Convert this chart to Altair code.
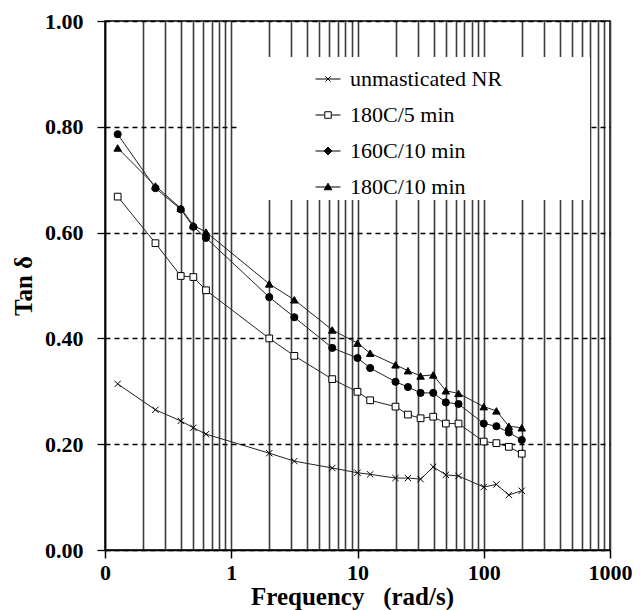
import altair as alt
import pandas as pd

# ---- data ----
freq = [0.126, 0.251, 0.398, 0.501, 0.631, 2.0, 3.16, 6.31, 10.0, 12.6,
        20.0, 25.1, 31.6, 39.8, 50.1, 63.1, 100.0, 126.0, 158.0, 200.0]
unmasticated_nr = [0.314, 0.265, 0.244, 0.231, 0.219, 0.183, 0.168, 0.155, 0.146, 0.143,
                   0.136, 0.136, 0.134, 0.157, 0.142, 0.140, 0.119, 0.124, 0.104, 0.112]
c180_5min = [0.668, 0.580, 0.518, 0.516, 0.491, 0.400, 0.367, 0.323, 0.299, 0.283,
             0.271, 0.256, 0.249, 0.252, 0.239, 0.239, 0.205, 0.202, 0.195, 0.182]
c160_10min = [0.786, 0.684, 0.644, 0.611, 0.590, 0.478, 0.440, 0.382, 0.363, 0.344,
              0.318, 0.308, 0.297, 0.297, 0.279, 0.276, 0.239, 0.234, 0.222, 0.208]
c180_10min = [0.760, 0.688, 0.646, 0.614, 0.601, 0.503, 0.473, 0.416, 0.391, 0.372,
              0.350, 0.339, 0.329, 0.331, 0.301, 0.296, 0.271, 0.263, 0.234, 0.231]
series_names = ["unmasticated NR", "180C/5 min", "160C/10 min", "180C/10 min"]
series_values = [unmasticated_nr, c180_5min, c160_10min, c180_10min]

y_ticks = [0.0, 0.2, 0.4, 0.6, 0.8, 1.0]
x_grid = [round(m * 10 ** e, 6) for e in range(-1, 3) for m in range(1, 10)] + [1000]

rows = []
for name, vals in zip(series_names, series_values):
    for f, v in zip(freq, vals):
        rows.append({"freq": f, "tan": v, "series": name})
df = pd.DataFrame(rows)

FONT = "Liberation Serif"
decade = "abs(log(datum.value)/LN10 - round(log(datum.value)/LN10)) < 0.001"

x_enc = alt.X(
    "freq:Q",
    scale=alt.Scale(type="log", domain=[0.1, 1000], nice=False),
    title="Frequency\u00a0\u00a0 (rad/s)",
    axis=alt.Axis(
        values=x_grid, grid=True, gridColor="#3c3c3c", gridWidth=1.6,
        tickColor="black", tickSize=8, tickWidth=1.5,
        tickOpacity={"condition": {"test": decade, "value": 1}, "value": 0},
        labelExpr=f"({decade}) ? (datum.value < 1 ? '0' : format(datum.value, 'd')) : ''",
        labelFont=FONT, labelFontWeight="bold", labelFontSize=22, labelColor="black",
        labelPadding=4, labelOverlap=False, labelFlush=False, labelBound=False,
        domainColor="black", domainWidth=1.5,
        titleFont=FONT, titleFontWeight="bold", titleFontSize=25, titleColor="black",
        titlePadding=1, titleX=247,
    ),
)
y_enc = alt.Y(
    "tan:Q",
    scale=alt.Scale(domain=[0, 1.0], nice=False),
    title="Tan \u03b4",
    axis=alt.Axis(
        values=y_ticks, format=".2f", grid=True, gridColor="black", gridWidth=1.3,
        gridDash=[5, 4], tickColor="black", tickSize=8, tickWidth=1.3,
        labelFont=FONT, labelFontWeight="bold", labelFontSize=22, labelColor="black",
        labelPadding=14, domainColor="black", domainWidth=1.5,
        titleFont=FONT, titleFontWeight="bold", titleFontSize=25, titleColor="black",
        titlePadding=8,
    ),
)

base = alt.Chart(df)

# white box behind the legend (hides grid lines, as in the reference)
mask = alt.Chart(pd.DataFrame({"k": [0]})).mark_rect(color="white").encode(
    x=alt.value(133), x2=alt.value(485), y=alt.value(36), y2=alt.value(179)
)

lines = base.mark_line(color="#222", strokeWidth=1).encode(
    x=x_enc, y=y_enc, detail="series:N", order="freq:Q"
)

points = base.mark_point(filled=True, stroke="black", strokeWidth=1, opacity=1).encode(
    x=x_enc, y=y_enc,
    shape=alt.Shape("series:N", scale=alt.Scale(
        domain=series_names,
        range=["M-1,-1L1,1M-1,1L1,-1", "square", "circle", "triangle-up"]), legend=None),
    fill=alt.Fill("series:N", scale=alt.Scale(
        domain=series_names, range=["transparent", "white", "black", "black"]), legend=None),
    size=alt.Size("series:N", scale=alt.Scale(
        domain=series_names, range=[40, 56, 72, 100]), legend=None),
)

leg = alt.Legend(
    title=None, orient="none", legendX=210, legendY=45, padding=0,
    symbolSize=625, symbolStrokeColor="black", symbolStrokeWidth=1, symbolOpacity=1,
    labelFont=FONT, labelFontSize=22, labelColor="black", labelOffset=9,
    rowPadding=12, labelLimit=300,
)
legend_layer = base.mark_point(filled=False, opacity=0).encode(
    x=x_enc, y=y_enc,
    shape=alt.Shape("series:N", scale=alt.Scale(
        domain=series_names,
        range=[
            "M-1,0H1M-0.2,-0.2L0.2,0.2M-0.2,0.2L0.2,-0.2",
            "M-1,0H-0.26M0.26,0H1M-0.26,-0.26H0.26V0.26H-0.26Z",
            "M-1,0H1M0,-0.32L0.32,0L0,0.32L-0.32,0Z",
            "M-1,0H1M0,-0.3L0.3,0.22H-0.3Z",
        ]), legend=leg),
    fill=alt.Fill("series:N", scale=alt.Scale(
        domain=series_names, range=["transparent", "white", "black", "black"]), legend=leg),
    stroke=alt.Stroke("series:N", scale=alt.Scale(
        domain=series_names, range=["black", "black", "black", "black"]), legend=leg),
)

chart = alt.layer(mask, lines, points, legend_layer).resolve_scale(
    shape="independent", fill="independent", stroke="independent"
).properties(
    width=505, height=529,
    autosize=alt.AutoSizeParams(type="none"),
    padding={"left": 97, "top": 13, "right": 22, "bottom": 60},
    background="white",
).configure_view(stroke="black", strokeWidth=1.5)

chart.save("out.html", embed_options={"renderer": "svg", "actions": False})
